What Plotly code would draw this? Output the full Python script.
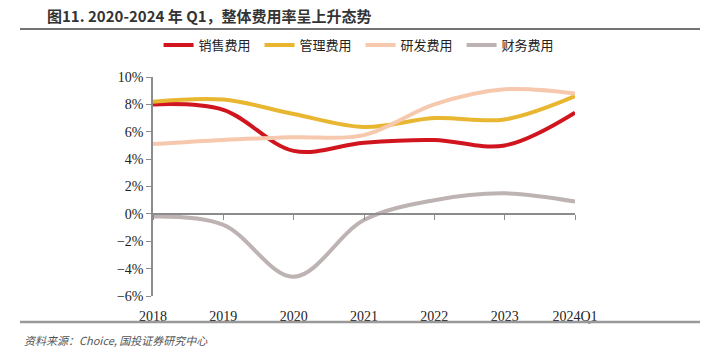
import plotly.graph_objects as go

categories = ["2018", "2019", "2020", "2021", "2022", "2023", "2024Q1"]
sales = [8.0, 7.6, 4.6, 5.2, 5.4, 5.0, 7.4]
admin = [8.2, 8.35, 7.3, 6.35, 7.0, 6.9, 8.6]
rnd = [5.1, 5.4, 5.6, 5.75, 8.0, 9.1, 8.8]
finance = [-0.2, -0.8, -4.6, -0.45, 1.0, 1.5, 0.9]

series_names = ["销售费用", "管理费用", "研发费用", "财务费用"]
series_values = [sales, admin, rnd, finance]
colors = ["#D0151F", "#E8B630", "#F6C8AE", "#BDB3B2"]

W, H = 707, 358
PL, PR, PT, PB = 153, 575, 77, 296  # plot area in pixels

fig = go.Figure()
for name, vals, col in zip(series_names, series_values, colors):
    fig.add_trace(go.Scatter(
        x=categories, y=vals, name=name, mode="lines",
        line=dict(color=col, width=4, shape="spline", smoothing=1.0),
        xaxis="x", yaxis="y",
    ))
# helper trace so that the zero-line axis is drawn
fig.add_trace(go.Scatter(x=categories, y=[None]*len(categories), xaxis="x2", yaxis="y",
                         showlegend=False, hoverinfo="skip", mode="lines"))

ymin, ymax = -6, 10
y_dom = [1 - PB / H, 1 - PT / H]
zero_pos = y_dom[0] + (0 - ymin) / (ymax - ymin) * (y_dom[1] - y_dom[0])

tick_font = dict(family="Liberation Serif, Times New Roman, serif", size=14, color="#222222")

fig.update_layout(
    width=W, height=H,
    margin=dict(l=0, r=0, t=0, b=0, pad=0, autoexpand=False),
    paper_bgcolor="white", plot_bgcolor="white",
    showlegend=True,
    legend=dict(orientation="h", x=0.51, xanchor="center",
                y=1 - 45 / H, yanchor="middle",
                font=dict(family="Noto Sans CJK SC", size=13, color="#222222"),
                entrywidth=56, itemwidth=30, tracegroupgap=0),
    xaxis=dict(type="category", range=[0, 6], domain=[PL / W, PR / W],
               showline=False, ticks="", ticklabelstandoff=10,
               showgrid=False, zeroline=False, tickfont=tick_font),
    xaxis2=dict(type="category", range=[0, 6], domain=[PL / W, PR / W],
                overlaying="x", anchor="free",
                position=zero_pos, showline=True, linecolor="#8c8c8c", linewidth=1.5,
                ticks="outside", ticklen=5, tickcolor="#8c8c8c", showticklabels=False,
                showgrid=False, zeroline=False),
    yaxis=dict(range=[ymin, ymax], domain=y_dom, dtick=2, ticksuffix="%", showline=True,
               linecolor="#8c8c8c", linewidth=1.5, ticks="outside", ticklen=5,
               tickcolor="#8c8c8c", showgrid=False, zeroline=False, tickfont=tick_font),
)

fig.add_annotation(text="<b>图11. 2020-2024 年 Q1，整体费用率呈上升态势</b>",
                   xref="paper", yref="paper", x=45 / W, y=1 - 15 / H,
                   xanchor="left", yanchor="middle", showarrow=False,
                   font=dict(family="Noto Sans CJK SC", size=15, color="#333333"))

# horizontal rules under the title and above the source note
for py, col, w in [(29, "#444444", 1.5), (322, "#999999", 2.5)]:
    fig.add_shape(type="line", xref="paper", yref="paper",
                  x0=20 / W, x1=700 / W, y0=1 - py / H, y1=1 - py / H,
                  line=dict(color=col, width=w))

fig.add_annotation(text="<i>资料来源：Choice, 国投证券研究中心</i>",
                   xref="paper", yref="paper", x=22 / W, y=1 - 340 / H,
                   xanchor="left", yanchor="middle", showarrow=False,
                   font=dict(family="Noto Sans CJK SC", size=11, color="#555555"))

fig.write_html("out.html", post_script="document.body.style.margin='0';",
               config={"displayModeBar": False})
